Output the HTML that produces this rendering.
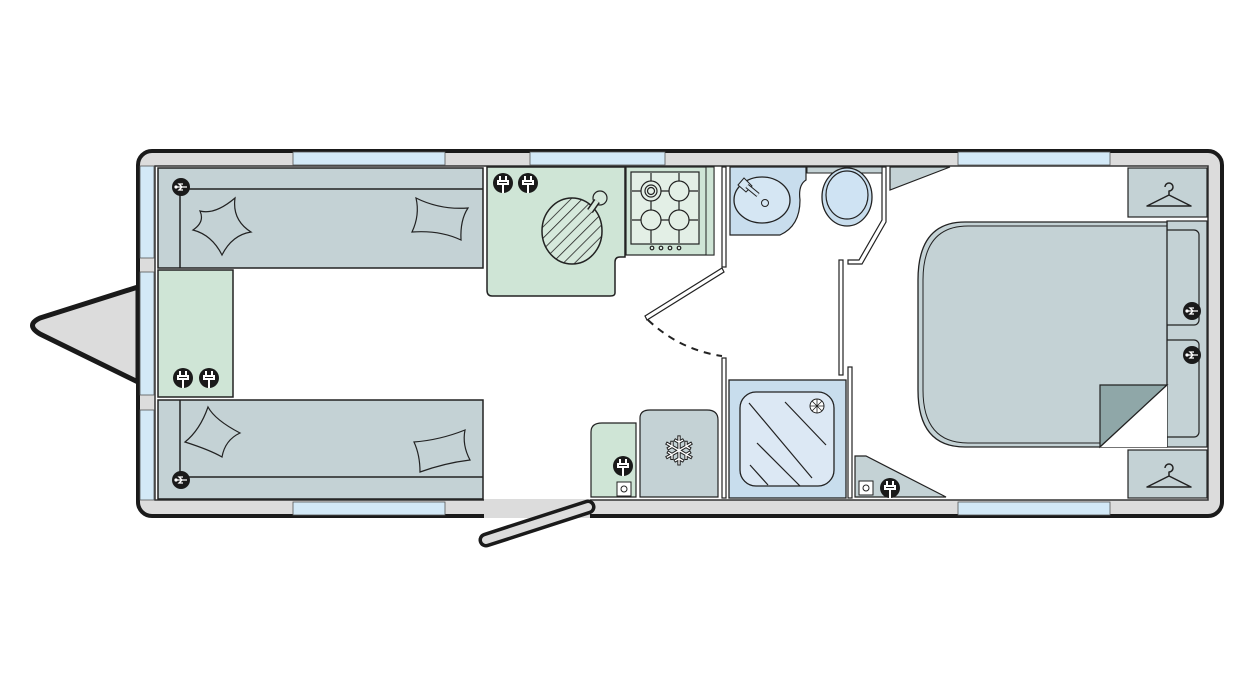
<!DOCTYPE html>
<html><head><meta charset="utf-8"><style>html,body{margin:0;padding:0;background:#fff}svg{display:block}</style></head>
<body>
<svg width="1250" height="700" viewBox="0 0 1250 700" xmlns="http://www.w3.org/2000/svg" font-family="Liberation Sans, sans-serif">
<defs>
<g id="usb"><circle r="9" fill="#1a1a1a"/><path d="M-5 0H6M1 0l-3-3h4M1 0l-3 3h4" stroke="#fff" stroke-width="1.3" fill="none"/><circle cx="-5" cy="0" r="1.6" fill="#fff"/></g>
<g id="plug"><circle r="10" fill="#1a1a1a"/><path d="M-5-2h10v3h-10zM-3-2v-5M3-2v-5M0 1v9" stroke="#fff" stroke-width="2" fill="none"/></g>
<g id="hanger"><path d="M-3-12a4 4 0 1 1 4 4v4l-22 11h44l-22-11" fill="none" stroke="#222" stroke-width="1.5" stroke-linejoin="round"/></g>
<pattern id="hatch" width="8" height="8" patternUnits="userSpaceOnUse" patternTransform="rotate(45)"><rect width="8" height="8" fill="#d6e9dc"/><line x1="0" y1="0" x2="0" y2="8" stroke="#222" stroke-width="1.6"/></pattern>
</defs>
<path d="M138 287 L40 318 Q25 325 40 334 L138 382 Z" fill="#dcdcdc" stroke="#1a1a1a" stroke-width="5" stroke-linejoin="round"/>
<rect x="138" y="151" width="1084" height="365" rx="14" fill="#dcdcdc" stroke="#1a1a1a" stroke-width="4"/>
<rect x="155" y="166" width="1053" height="334" fill="#fff" stroke="#333" stroke-width="1.5"/>
<g fill="#d3e9f7" stroke="#555" stroke-width="0.8">
<rect x="293" y="152" width="152" height="13"/><rect x="530" y="152" width="135" height="13"/><rect x="958" y="152" width="152" height="13"/>
<rect x="293" y="502" width="152" height="13"/><rect x="958" y="502" width="152" height="13"/>
<rect x="140" y="166" width="14" height="92"/><rect x="140" y="272" width="14" height="123"/><rect x="140" y="410" width="14" height="90"/>
</g>
<rect x="484" y="499" width="106" height="19" fill="#dcdcdc"/>
<path d="M588 507 L486 540" stroke="#1a1a1a" stroke-width="15" stroke-linecap="round"/>
<path d="M588 507 L486 540" stroke="#dcdcdc" stroke-width="8" stroke-linecap="round"/>
<g stroke="#222" stroke-width="1.5">
<rect x="158" y="168" width="325" height="100" fill="#c4d2d5"/>
<line x1="180" y1="189" x2="483" y2="189"/><line x1="180" y1="189" x2="180" y2="268"/>
<rect x="158" y="400" width="325" height="99" fill="#c4d2d5"/>
<line x1="180" y1="477" x2="483" y2="477"/><line x1="180" y1="400" x2="180" y2="477"/>
<rect x="158" y="270" width="75" height="127" fill="#cfe5d6"/>
</g>
<g fill="#c4d2d5" stroke="#222" stroke-width="1.2">
<path d="M200 211 Q215 215 235 198 Q232 220 251 232 Q232 235 222 255 Q212 235 193 230 Q205 222 200 211Z"/>
<path d="M416 198 Q440 210 468 208 Q460 220 461 240 Q440 230 412 232 Q420 215 416 198Z"/>
<path d="M208 407 Q215 420 240 433 Q225 440 222 457 Q210 450 185 442 Q200 430 208 407Z"/>
<path d="M414 442 Q440 440 465 430 Q462 445 470 460 Q445 463 420 472 Q420 455 414 442Z"/>
</g>
<use href="#usb" x="181" y="187"/><use href="#usb" x="181" y="480"/>
<use href="#plug" x="183" y="378"/><use href="#plug" x="209" y="378"/>
<path d="M487 167 H625 V257 H620 Q615 257 615 262 V293 Q615 296 610 296 H492 Q487 296 487 290 Z" fill="#cfe5d6" stroke="#222" stroke-width="1.5"/>
<ellipse cx="572" cy="231" rx="30" ry="33" fill="url(#hatch)" stroke="#222" stroke-width="1.5"/>
<circle cx="600" cy="198" r="7" fill="#d6e9dc" stroke="#222" stroke-width="1.2"/>
<path d="M597 201 L590 211" stroke="#222" stroke-width="7"/><path d="M597 201 L590 211" stroke="#d6e9dc" stroke-width="4"/>
<use href="#plug" x="503" y="183"/><use href="#plug" x="528" y="183"/>
<rect x="626" y="167" width="88" height="88" fill="#cfe5d6" stroke="#222" stroke-width="1.2"/>
<rect x="631" y="172" width="68" height="72" fill="#e3efe6" stroke="#222" stroke-width="1.2"/>
<g fill="#e3efe6" stroke="#222" stroke-width="1.2">
<path d="M632 191H698M632 220H698M651 173V243M679 173V243"/>
<circle cx="651" cy="191" r="10"/><circle cx="679" cy="191" r="10"/><circle cx="651" cy="220" r="10"/><circle cx="679" cy="220" r="10"/>
<circle cx="651" cy="191" r="6"/><circle cx="651" cy="191" r="3.5"/>
<circle cx="652" cy="248" r="1.8"/><circle cx="661" cy="248" r="1.8"/><circle cx="670" cy="248" r="1.8"/><circle cx="679" cy="248" r="1.8"/>
</g>
<rect x="706" y="167" width="8" height="88" fill="#cfe5d6" stroke="#222" stroke-width="1"/>
<g fill="#fff" stroke="#222" stroke-width="1.2">
<rect x="722" y="167" width="4" height="100"/>
<rect x="722" y="358" width="4" height="140"/>
<rect x="839" y="260" width="4" height="115"/>
<rect x="848" y="367" width="4" height="131"/>
<path d="M882 167 H886 V222 L862 264 H848 V260 H859 L882 220 Z"/>
<path d="M645 316 L722 268 L724 272 L647 320 Z"/>
</g>
<path d="M648 320 Q680 350 722 356" fill="none" stroke="#222" stroke-width="2" stroke-dasharray="7 6"/>
<path d="M730 167 H806 V180 Q798 185 800 200 Q800 226 780 235 H730 Z" fill="#c8dded" stroke="#222" stroke-width="1.2"/>
<ellipse cx="762" cy="200" rx="28" ry="23" fill="#d5e6f3" stroke="#222" stroke-width="1.3"/>
<circle cx="765" cy="203" r="3.5" fill="none" stroke="#222"/>
<path d="M738 185 L744 178 L752 186 L746 192Z" fill="#d5e6f3" stroke="#222"/>
<path d="M747 186 L758 195" stroke="#222" stroke-width="5"/><path d="M747 186 L758 195" stroke="#d5e6f3" stroke-width="3"/>
<rect x="807" y="167" width="75" height="6" fill="#c4d2d5" stroke="#222" stroke-width="1"/>
<ellipse cx="847" cy="197" rx="25" ry="29" fill="#c8dded" stroke="#222" stroke-width="1.3"/>
<ellipse cx="847" cy="195" rx="21" ry="24" fill="#cfe3f3" stroke="#222" stroke-width="1.2"/>
<path d="M890 167 H950 L890 190 Z" fill="#c4d2d5" stroke="#222" stroke-width="1.2"/>
<rect x="729" y="380" width="117" height="118" fill="#c8dded" stroke="#222" stroke-width="1.3"/>
<rect x="740" y="392" width="94" height="94" rx="16" fill="#dce8f4" stroke="#222" stroke-width="1.3"/>
<g stroke="#222" stroke-width="1.2"><line x1="749" y1="403" x2="812" y2="478"/><line x1="785" y1="402" x2="826" y2="445"/><line x1="757" y1="443" x2="800" y2="486"/><line x1="750" y1="465" x2="768" y2="485"/></g>
<circle cx="817" cy="406" r="7" fill="#fff" stroke="#222"/><path d="M812 401L822 411M822 401L812 411M817 399V413M810 406H824" stroke="#222" stroke-width="0.8"/>
<path d="M591 497 V432 Q591 423 602 423 H636 V497 Z" fill="#cfe5d6" stroke="#222" stroke-width="1.2"/>
<use href="#plug" x="623" y="466"/>
<rect x="617" y="482" width="14" height="14" fill="#fff" stroke="#222"/><circle cx="624" cy="489" r="3" fill="none" stroke="#222"/>
<path d="M640 497 V418 Q640 410 650 410 H707 Q718 410 718 420 V497 Z" fill="#c4d2d5" stroke="#222" stroke-width="1.2"/>
<text x="679" y="465" font-size="40" text-anchor="middle" fill="#fff" stroke="#222" stroke-width="1">❄</text>
<path d="M855 497 V456 H866 L946 497 Z" fill="#c4d2d5" stroke="#222" stroke-width="1.2"/>
<rect x="859" y="481" width="14" height="14" fill="#fff" stroke="#222"/><circle cx="866" cy="488" r="3" fill="none" stroke="#222"/>
<use href="#plug" x="890" y="488"/>
<rect x="1128" y="168" width="79" height="49" fill="#c4d2d5" stroke="#222" stroke-width="1.2"/>
<rect x="1128" y="450" width="79" height="48" fill="#c4d2d5" stroke="#222" stroke-width="1.2"/>
<use href="#hanger" x="1168" y="199"/><use href="#hanger" x="1168" y="480"/>
<rect x="1167" y="221" width="40" height="226" fill="#c4d2d5" stroke="#222" stroke-width="1.2"/>
<rect x="1137" y="230" width="62" height="95" rx="5" fill="#c4d2d5" stroke="#222" stroke-width="1.2"/>
<rect x="1137" y="340" width="62" height="97" rx="5" fill="#c4d2d5" stroke="#222" stroke-width="1.2"/>
<path d="M965 222 H1167 V447 H965 Q918 447 918 390 V280 Q918 222 965 222 Z" fill="#c4d2d5" stroke="#222" stroke-width="1.3"/>
<path d="M968 226 H1167 V443 H968 Q923 443 923 390 V280 Q923 226 968 226 Z" fill="none" stroke="#222" stroke-width="1"/>
<path d="M1100 447 L1100 385 L1167 385 Z" fill="#8fa7a8" stroke="#222" stroke-width="1.2"/>
<path d="M1100 447 L1167 447 L1167 385 Z" fill="#fff"/>
<line x1="1100" y1="447" x2="1167" y2="385" stroke="#222" stroke-width="1.2"/>
<use href="#usb" x="1192" y="311"/><use href="#usb" x="1192" y="355"/>
</svg>
</body></html>
